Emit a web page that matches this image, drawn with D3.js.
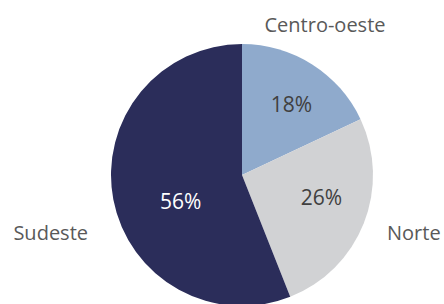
<!DOCTYPE html>
<html>
<head>
<meta charset="utf-8">
<script src="https://cdn.jsdelivr.net/npm/d3@7"></script>
<style>
  html, body { margin: 0; padding: 0; background: #ffffff; }
  svg { display: block; }
</style>
</head>
<body>
<svg id="chart" width="444" height="304"></svg>
<script>
// Data
const regions = ["Centro-oeste", "Norte", "Sudeste"];
const shares = [18, 26, 56];
const percentLabels = ["18%", "26%", "56%"];

// Layout / style (not data)
const W = 444, H = 304;
const cx = 242, cy = 175, R = 131;
const colors = ["#8faacc", "#d1d2d4", "#2b2d5a"];
const pctColors = ["#404040", "#404040", "#ffffff"];
// label placement in polar terms (angle in degrees from 12 o'clock, radius fraction)
const pctPlace = [{a: 34.8, r: 0.66}, {a: 105.6, r: 0.63}, {a: 246.5, r: 0.51}];
const outerLabels = [
  {x: 325, y: 32, anchor: "middle"},
  {x: 387, y: 240, anchor: "start"},
  {x: 88, y: 240, anchor: "end"}
];

const svg = d3.select("#chart");
const g = svg.append("g").attr("transform", `translate(${cx},${cy})`);

const pie = d3.pie().sort(null).value(d => d)(shares);
const arc = d3.arc().innerRadius(0).outerRadius(R);

g.selectAll("path.slice")
  .data(pie)
  .join("path")
  .attr("class", "slice")
  .attr("d", arc)
  .attr("fill", (d, i) => colors[i]);

g.selectAll("text.pct")
  .data(pie)
  .join("text")
  .attr("class", "pct")
  .attr("x", (d, i) => Math.sin(pctPlace[i].a * Math.PI / 180) * R * pctPlace[i].r)
  .attr("y", (d, i) => -Math.cos(pctPlace[i].a * Math.PI / 180) * R * pctPlace[i].r)
  .attr("dy", "0.36em")
  .attr("text-anchor", "middle")
  .attr("font-family", "Open Sans, sans-serif")
  .attr("font-size", 21)
  .attr("fill", (d, i) => pctColors[i])
  .text((d, i) => percentLabels[i]);

svg.selectAll("text.cat")
  .data(regions)
  .join("text")
  .attr("class", "cat")
  .attr("x", (d, i) => outerLabels[i].x)
  .attr("y", (d, i) => outerLabels[i].y)
  .attr("text-anchor", (d, i) => outerLabels[i].anchor)
  .attr("font-family", "Open Sans, sans-serif")
  .attr("font-size", 20)
  .attr("fill", "#595959")
  .text(d => d);
</script>
</body>
</html>
